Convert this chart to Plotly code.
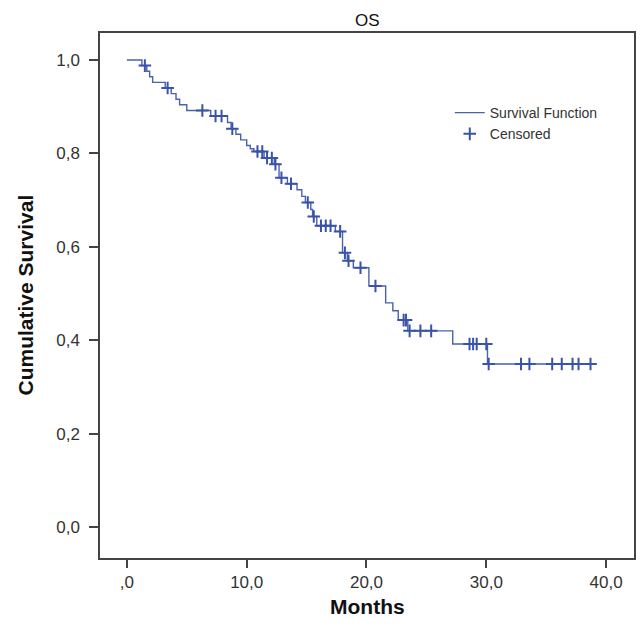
import plotly.graph_objects as go

# Kaplan-Meier step curve (event times in months, survival after each step)
step_months = [0, 1.25, 1.66, 1.9, 2.15, 3.2, 3.7, 4.1, 4.4, 5.0, 7.0, 8.4, 8.7,
               9.1, 9.5, 10.0, 10.3, 10.6, 11.45, 12.3, 12.7, 13.4, 14.2, 14.6,
               14.9, 15.35, 15.5, 15.85, 17.4, 18.0, 18.4, 18.9, 20.2, 21.6, 22.2,
               22.65, 23.45, 27.2, 30.1, 38.7]
survival = [1.0, 0.988, 0.976, 0.964, 0.952, 0.94, 0.928, 0.916, 0.904, 0.892,
            0.880, 0.866, 0.853, 0.841, 0.829, 0.817, 0.810, 0.804, 0.790, 0.777,
            0.748, 0.735, 0.722, 0.708, 0.695, 0.680, 0.665, 0.645, 0.633, 0.587,
            0.570, 0.555, 0.516, 0.480, 0.463, 0.443, 0.420, 0.392, 0.349, 0.349]

# Censored observations
censor_months = [1.5, 3.4, 6.3, 7.4, 7.9, 8.8, 10.9, 11.3, 11.7, 12.1, 12.4, 12.9,
                 13.7, 15.1, 15.6, 16.2, 16.6, 17.0, 17.8, 18.2, 18.5, 19.5,
                 20.75, 23.1, 23.3, 23.6, 24.5, 25.4, 28.6, 28.9, 29.2, 30.0, 30.2,
                 32.9, 33.6, 35.5, 36.3, 37.2, 37.7, 38.7]
censor_surv = [0.988, 0.94, 0.892, 0.880, 0.880, 0.853, 0.804, 0.804, 0.790, 0.790,
               0.777, 0.748, 0.735, 0.695, 0.665, 0.645, 0.645, 0.645, 0.633, 0.587,
               0.570, 0.555, 0.516, 0.443, 0.443, 0.420, 0.420, 0.420, 0.392, 0.392,
               0.392, 0.392, 0.349, 0.349, 0.349, 0.349, 0.349, 0.349, 0.349, 0.349]

x_ticks = [0, 10, 20, 30, 40]
x_tick_labels = [",0", "10,0", "20,0", "30,0", "40,0"]
y_ticks = [0.0, 0.2, 0.4, 0.6, 0.8, 1.0]
y_tick_labels = ["0,0", "0,2", "0,4", "0,6", "0,8", "1,0"]

line_color = "#4a62ad"
mark_color = "#3a52a8"
font = "Liberation Sans, Arial, sans-serif"

fig = go.Figure()
fig.add_trace(go.Scatter(
    x=step_months, y=survival, mode="lines", line_shape="hv",
    line=dict(color=line_color, width=1.4), name="Survival Function"))
fig.add_trace(go.Scatter(
    x=censor_months, y=censor_surv, mode="markers",
    marker=dict(symbol="cross-thin", size=9,
                line=dict(color=mark_color, width=2)),
    name="Censored"))

fig.update_layout(
    width=640, height=629,
    margin=dict(l=100, r=4, t=33, b=71),
    paper_bgcolor="white", plot_bgcolor="white",
    font=dict(family=font, color="#222"),
    showlegend=True,
    legend=dict(x=0.655, y=0.878, xanchor="left", yanchor="top",
                bgcolor="rgba(0,0,0,0)", font=dict(size=14, color="#333"),
                itemwidth=30, tracegroupgap=0),
    annotations=[
        dict(text="OS", x=0.5, y=1, xref="paper", yref="paper", showarrow=False,
             yanchor="middle", yshift=13, font=dict(size=17, color="#111")),
        dict(text="<b>Months</b>", x=0.5, xref="paper", yref="paper", y=0,
             yshift=-48, showarrow=False, font=dict(size=21, color="#111"),
             yanchor="middle"),
        dict(text="<b>Cumulative Survival</b>", x=0, xref="paper", xshift=-75,
             y=0.5, yref="paper", textangle=-90, showarrow=False,
             font=dict(size=21, color="#111"), xanchor="center"),
    ],
)

fig.update_xaxes(range=[-2.245, 42.33], tickvals=x_ticks, ticktext=x_tick_labels,
                 ticks="outside", ticklen=8, tickwidth=1.5, tickcolor="#444",
                 showline=True, linecolor="#444", linewidth=1.5, mirror=True,
                 showgrid=False, zeroline=False, ticklabelstandoff=0,
                 tickfont=dict(size=17, color="#333"))
fig.update_yaxes(range=[-0.0664, 1.0578], tickvals=y_ticks, ticktext=y_tick_labels,
                 ticks="outside", ticklen=9, tickwidth=1.5, tickcolor="#444",
                 showline=True, linecolor="#444", linewidth=1.5, mirror=True,
                 showgrid=False, zeroline=False, ticklabelstandoff=6,
                 tickfont=dict(size=17, color="#333"))

fig.write_html("out.html")
